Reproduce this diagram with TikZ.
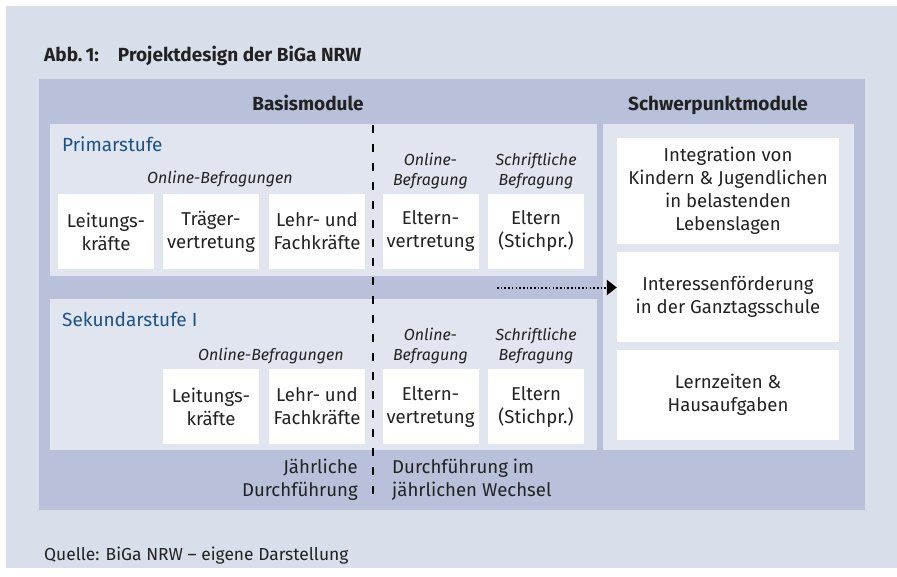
\documentclass[tikz,border=0pt]{standalone}
\usepackage{fontspec}
\setmainfont{Fira Sans}
\usetikzlibrary{arrows.meta}
\definecolor{hgrund}{HTML}{D9DFEA}
\definecolor{mittel}{HTML}{B8C1D9}
\definecolor{hell}{HTML}{E0E5EF}
\definecolor{schrift}{HTML}{222222}
\definecolor{stufenblau}{HTML}{1B5287}
\begin{document}
\begin{tikzpicture}[x=1pt,y=-1pt,>={Triangle[length=10pt,width=15pt]}, text=schrift, inner sep=0pt,
		font=\fontsize{18.6}{23}\selectfont,
		kasten/.style={fill=white,minimum width=96pt,minimum height=75pt,align=center},
		fokus/.style={fill=white,minimum width=222pt,align=center},
		kopf/.style={font=\fontsize{19}{23}\selectfont\bfseries,anchor=base},
		art/.style={font=\fontsize{16}{19.5}\selectfont\itshape,align=center},
		stufe/.style={font=\fontsize{19}{22}\selectfont,text=stufenblau,anchor=base west}]
		\def\teil{373}
		\fill[white] (0,0) rectangle (897,576);
		\fill[hgrund] (6,6) rectangle (897,568);
		\node (titel) at (44,61) [anchor=base west,font=\fontsize{19}{23}\selectfont\bfseries]{Abb.\,1:\quad Projektdesign der BiGa NRW};
		\node (quelle) at (44,560) [anchor=base west,font=\fontsize{17.4}{20}\selectfont]{Quelle: BiGa NRW -- eigene Darstellung};
		\fill[mittel] (39,79) rectangle (865,510);
		\fill[hell] (50,124) rectangle (597,276);
		\fill[hell] (50,299) rectangle (597,450);
		\fill[hell] (603,124) rectangle (854,450);
		\node (basis) at (308,110) [kopf]{Basismodule};
		\node (schwer) at (718,110) [kopf]{Schwerpunktmodule};
		% Primarstufe
		\node (primar) at (62,151) [stufe]{Primarstufe};
		\node (onlineP) at (220,183) [art,anchor=base]{Online-Befragungen};
		\node (elternonlineP) at (430.5,171) [art]{Online-\\Befragung};
		\node (schriftP) at (536,171) [art]{Schriftliche\\Befragung};
		\node (leitungP) at (106,231.5) [kasten]{Leitungs-\\kräfte};
		\node (traeger) at (211,231.5) [kasten]{Träger-\\vertretung};
		\node (lehrP) at (317,231.5) [kasten]{Lehr- und\\Fachkräfte};
		\node (elternvP) at (430.5,231.5) [kasten]{Eltern-\\vertretung};
		\node (elternP) at (536,231.5) [kasten]{Eltern\\(Stichpr.)};
		% Sekundarstufe I
		\node (sek) at (62,326) [stufe]{Sekundarstufe I};
		\node (onlineS) at (271,360) [art,anchor=base]{Online-Befragungen};
		\node (elternonlineS) at (430.5,346) [art]{Online-\\Befragung};
		\node (schriftS) at (536,346) [art]{Schriftliche\\Befragung};
		\node (leitungS) at (211,406.5) [kasten]{Leitungs-\\kräfte};
		\node (lehrS) at (317,406.5) [kasten]{Lehr- und\\Fachkräfte};
		\node (elternvS) at (430.5,406.5) [kasten]{Eltern-\\vertretung};
		\node (elternS) at (536,406.5) [kasten]{Eltern\\(Stichpr.)};
		\node (jaehrlich) at (358,480) [anchor=east,align=right]{Jährliche\\Durchführung};
		\node (wechsel) at (392,480) [anchor=west,align=left]{Durchführung im\\jährlichen Wechsel};
		% Schwerpunktmodule
		\node (integration) at (728,191) [fokus,minimum height=106pt]{Integration von\\Kindern \& Jugendlichen\\in belastenden\\Lebenslagen};
		\node (interesse) at (728,296.5) [fokus,minimum height=90pt]{Interessenförderung\\in der Ganztagsschule};
		\node (lernzeit) at (728,394.5) [fokus,minimum height=90pt]{Lernzeiten \&\\Hausaufgaben};
		\draw[line width=2pt,dash pattern=on 8pt off 11pt] (\teil,125)--(\teil,498);
		\coordinate (pfeil) at (497,287.5);
		\draw[->,line width=2pt,dash pattern=on 1.6pt off 2.1pt] (pfeil)--(pfeil -| interesse.west);
	\end{tikzpicture}
\end{document}
